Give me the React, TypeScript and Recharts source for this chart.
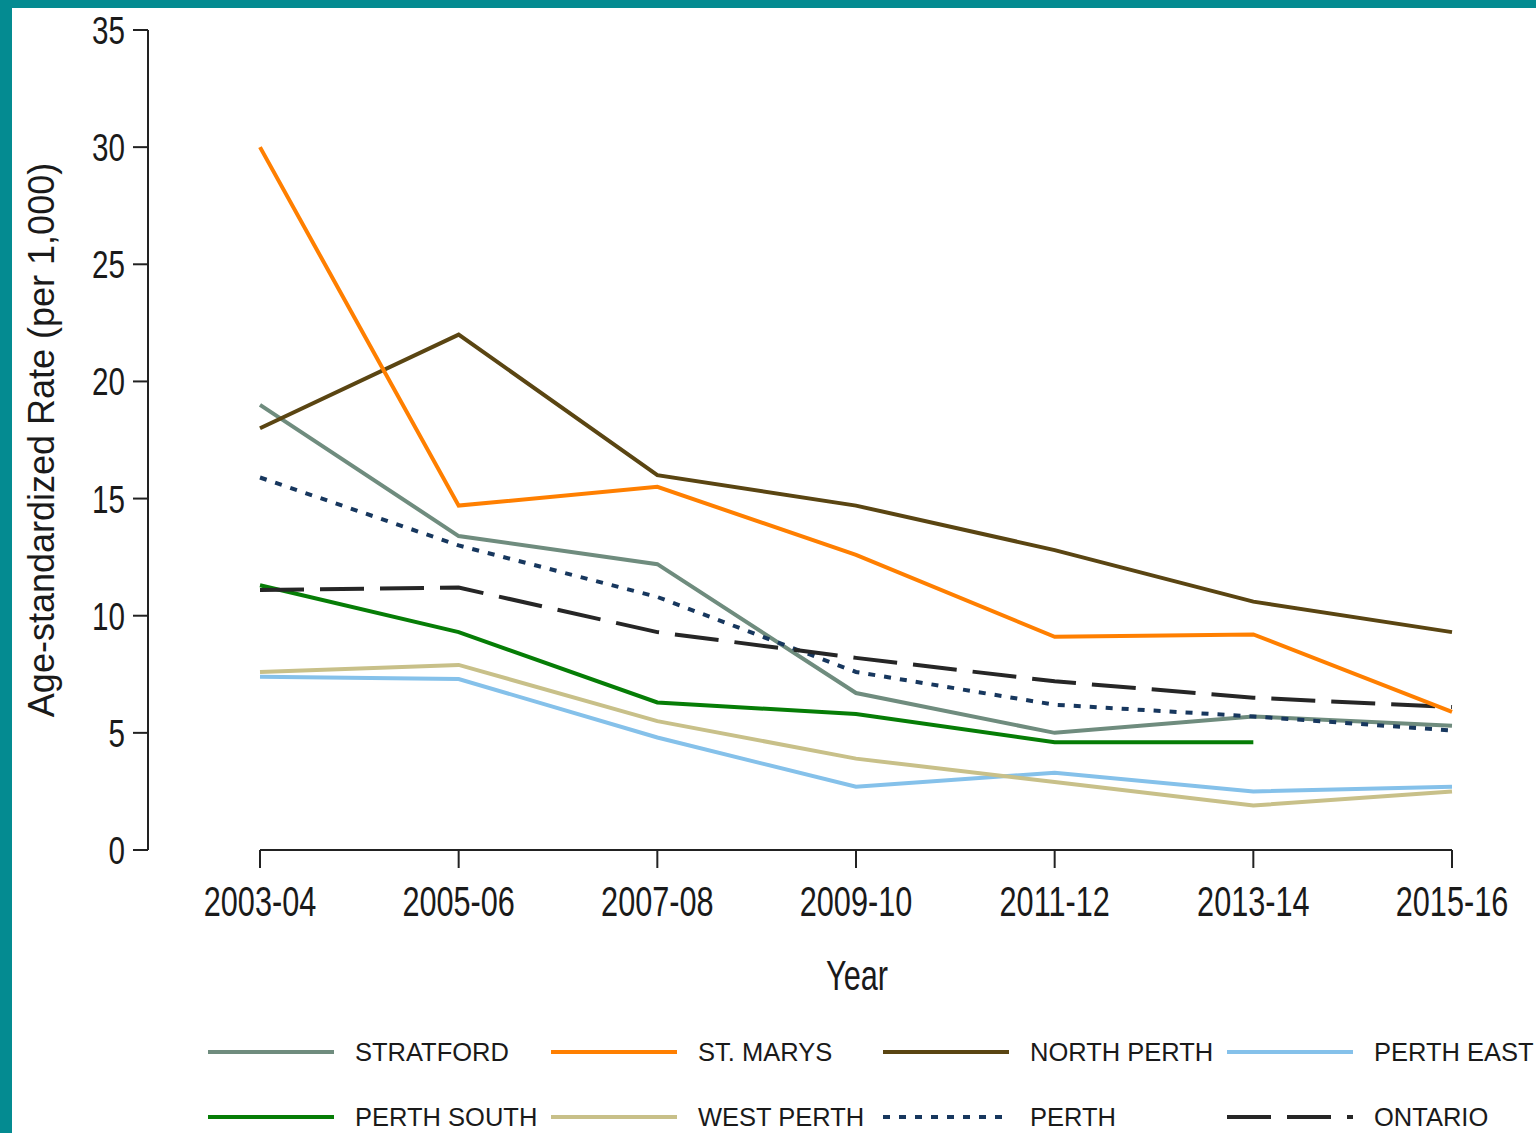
import React from 'react'
import {
  LineChart,
  Line,
  XAxis,
  YAxis,
  Legend,
  Label,
  ReferenceLine,
} from 'recharts'

const years = ['2003-04', '2005-06', '2007-08', '2009-10', '2011-12', '2013-14', '2015-16']
const yTicks = [0, 5, 10, 15, 20, 25, 30, 35]

const stratford = [19.0, 13.4, 12.2, 6.7, 5.0, 5.7, 5.3]
const stMarys = [30.0, 14.7, 15.5, 12.6, 9.1, 9.2, 5.9]
const northPerth = [18.0, 22.0, 16.0, 14.7, 12.8, 10.6, 9.3]
const perthEast = [7.4, 7.3, 4.8, 2.7, 3.3, 2.5, 2.7]
const perthSouth = [11.3, 9.3, 6.3, 5.8, 4.6, 4.6, null]
const westPerth = [7.6, 7.9, 5.5, 3.9, 2.9, 1.9, 2.5]
const perth = [15.9, 13.0, 10.8, 7.6, 6.2, 5.7, 5.1]
const ontario = [11.1, 11.2, 9.3, 8.2, 7.2, 6.5, 6.1]

type Series = { key: string; name: string; values: (number | null)[]; color: string; dash?: string }

// legend order (two rows of four)
const series: Series[] = [
  { key: 'stratford', name: 'STRATFORD', values: stratford, color: '#6f8c7e' },
  { key: 'stMarys', name: 'ST. MARYS', values: stMarys, color: '#ff7f00' },
  { key: 'northPerth', name: 'NORTH PERTH', values: northPerth, color: '#5a4512' },
  { key: 'perthEast', name: 'PERTH EAST', values: perthEast, color: '#85c1ea' },
  { key: 'perthSouth', name: 'PERTH SOUTH', values: perthSouth, color: '#067d06' },
  { key: 'westPerth', name: 'WEST PERTH', values: westPerth, color: '#c8c089' },
  { key: 'perth', name: 'PERTH', values: perth, color: '#17375e', dash: '7 9' },
  { key: 'ontario', name: 'ONTARIO', values: ontario, color: '#262626', dash: '44 16' },
]

// draw order in the plot
const drawOrder = ['perthEast', 'westPerth', 'perthSouth', 'stratford', 'perth', 'ontario', 'northPerth', 'stMarys']

const data = years.map((year, i) => {
  const row: Record<string, any> = { year }
  series.forEach((s) => (row[s.key] = s.values[i]))
  return row
})

const AXIS = '#222'
const FONT = '"Liberation Sans", Arial, sans-serif'

function XTick({ x, y, payload }: any) {
  return (
    <text
      transform={`translate(${x},${y + 46}) scale(0.73,1)`}
      textAnchor="middle"
      fontFamily={FONT}
      fontSize={42}
      fill="#1a1a1a"
    >
      {payload.value}
    </text>
  )
}

function YTick({ x, y, payload }: any) {
  return (
    <text
      transform={`translate(${x - 6},${y + 14}) scale(0.76,1)`}
      textAnchor="end"
      fontFamily={FONT}
      fontSize={39}
      fill="#1a1a1a"
    >
      {payload.value}
    </text>
  )
}

const colX = [196, 539, 871, 1215]
const rowY = [1044, 1109]

function LegendBox() {
  return (
    <div style={{ position: 'relative', width: 1524, height: 131 }}>
      {series.map((s, i) => {
        const left = colX[i % 4]
        const top = rowY[Math.floor(i / 4)] - 1002
        return (
          <div key={s.key} style={{ position: 'absolute', left, top: top - 15, height: 30, display: 'flex', alignItems: 'center', whiteSpace: 'nowrap' }}>
            <svg width={126} height={30} style={{ display: 'block' }}>
              <line x1={0} y1={15} x2={126} y2={15} stroke={s.color} strokeWidth={4} strokeDasharray={s.dash} />
            </svg>
            <span style={{ marginLeft: 21, fontFamily: FONT, fontSize: 25.5, color: '#1a1a1a' }}>{s.name}</span>
          </div>
        )
      })}
    </div>
  )
}

export default function App() {
  return (
    <div style={{ width: 1536, height: 1133, background: '#048b91', position: 'relative', overflow: 'hidden' }}>
      <style>{'body{margin:0}'}</style>
      <div style={{ position: 'absolute', left: 12, top: 8, width: 1524, height: 1125, background: '#fff', overflow: 'hidden' }}>
        <LineChart width={1524} height={1125} data={data} margin={{ top: 22, right: 84, bottom: 0, left: 0 }}>
          <XAxis
            dataKey="year"
            height={283}
            padding={{ left: 112, right: 0 }}
            axisLine={false}
            tickLine={{ stroke: AXIS, strokeWidth: 2 }}
            tickSize={18}
            tick={<XTick />}
            interval={0}
          >
            <Label
              content={() => (
                <text
                  transform="translate(845,982) scale(0.73,1)"
                  textAnchor="middle"
                  fontFamily={FONT}
                  fontSize={42}
                  fill="#1a1a1a"
                >
                  Year
                </text>
              )}
            />
          </XAxis>
          <YAxis
            width={136}
            domain={[0, 35]}
            ticks={yTicks}
            interval={0}
            axisLine={{ stroke: AXIS, strokeWidth: 2 }}
            tickLine={{ stroke: AXIS, strokeWidth: 2 }}
            tickSize={15}
            tick={<YTick />}
          >
            <Label
              content={() => (
                <text
                  transform="translate(42,432) rotate(-90)"
                  textAnchor="middle"
                  fontFamily={FONT}
                  fontSize={36}
                  fill="#1a1a1a"
                >
                  Age-standardized Rate (per 1,000)
                </text>
              )}
            />
          </YAxis>
          <ReferenceLine
            segment={[{ x: years[0], y: 0 }, { x: years[years.length - 1], y: 0 }]}
            stroke={AXIS}
            strokeWidth={2}
            ifOverflow="visible"
          />
          {drawOrder.map((k) => {
            const s = series.find((d) => d.key === k)!
            return (
              <Line
                key={s.key}
                type="linear"
                dataKey={s.key}
                name={s.name}
                stroke={s.color}
                strokeWidth={4}
                strokeDasharray={s.dash}
                dot={false}
                activeDot={false}
                isAnimationActive={false}
              />
            )
          })}
          <Legend
            layout="horizontal"
            verticalAlign="middle"
            align="center"
            wrapperStyle={{ top: 1002, left: 0, width: 1524, height: 131 }}
            content={() => <LegendBox />}
          />
        </LineChart>
      </div>
    </div>
  )
}
